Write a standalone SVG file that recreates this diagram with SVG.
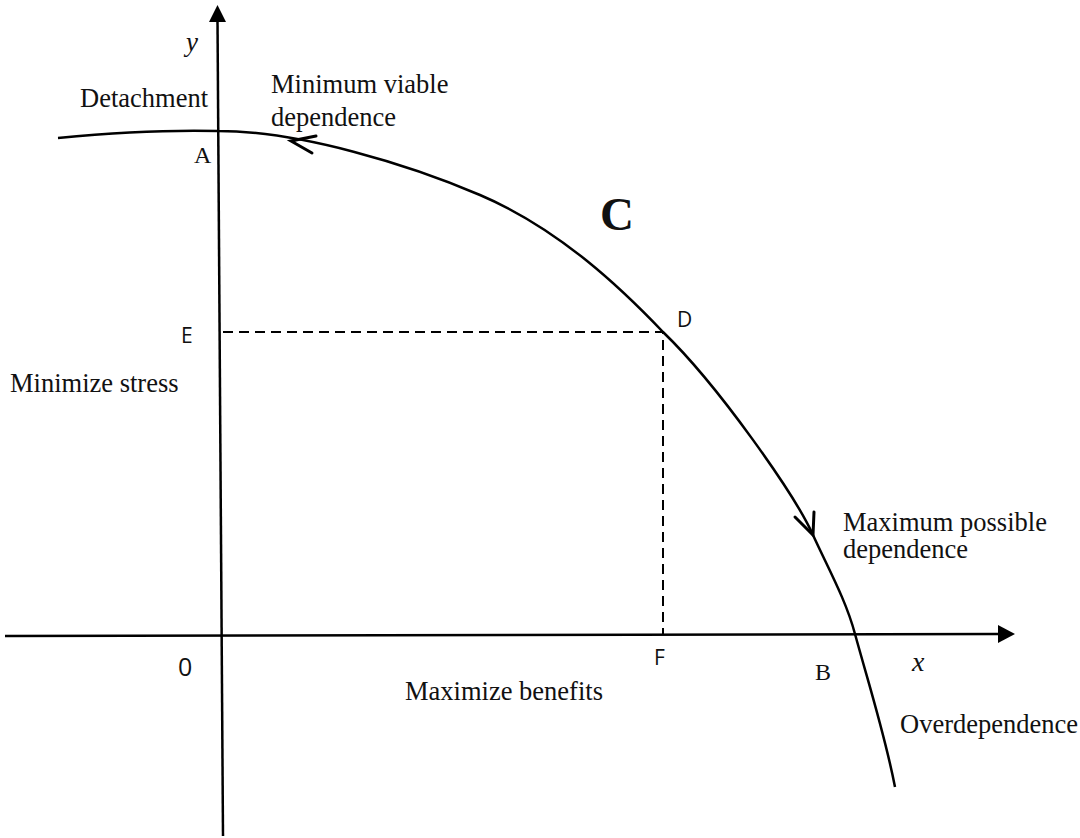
<svg xmlns="http://www.w3.org/2000/svg" width="1080" height="838" viewBox="0 0 1080 838">
<style>
.ser{font-family:"Liberation Serif","Times New Roman",serif;fill:#111;font-size:26.5px}
.san{font-family:"Open Sans","Liberation Sans",sans-serif;fill:#111;font-size:21px}
.ln{stroke:#000;stroke-width:2.5;fill:none}
.dash{stroke:#000;stroke-width:2;fill:none;stroke-dasharray:10 6}
.chev{stroke:#000;stroke-width:3;fill:none;stroke-linecap:round;stroke-linejoin:miter}
</style>
<rect width="1080" height="838" fill="#fff"/>
<g id="connectors">
  <line id="y-axis" class="ln" x1="217.5" y1="20" x2="223" y2="836"/>
  <polygon points="217.5,5 209,22 226,22" fill="#000"/>
  <line id="x-axis" class="ln" x1="5" y1="636" x2="999" y2="634"/>
  <polygon points="1015,634 998,625 998,643" fill="#000"/>
  <path id="curve" class="ln" d="M58,138 C120,132 180,130 218,131 C300,131 410,165 480,195 C560,229 623,290 663,332 C718,385 795,495 813,535 C828,568 846,600 855,634 C869,685 885,735 895,787"/>
  <polyline class="chev" points="316,136 291,141 312,153"/>
  <polyline class="chev" points="795,517 813,535 814,512"/>
  <polyline class="dash" points="223,332 663,332 663,634"/>
</g>
<g id="labels">
  <text class="ser" x="186" y="51" style="font-style:italic;font-size:27px">y</text>
  <text class="ser" x="80" y="107">Detachment</text>
  <text class="ser" x="271" y="93">Minimum viable</text>
  <text class="ser" x="271" y="126">dependence</text>
  <text class="ser" x="194" y="163" style="font-size:24px">A</text>
  <text class="ser" x="600" y="230" style="font-size:47px;font-weight:bold">C</text>
  <text class="san" x="677" y="327">D</text>
  <text class="san" x="181" y="343">E</text>
  <text class="ser" x="10" y="392">Minimize stress</text>
  <text class="ser" x="843" y="531">Maximum possible</text>
  <text class="ser" x="843" y="558">dependence</text>
  <text class="san" x="178" y="676" style="font-size:25px">0</text>
  <text class="san" x="654" y="665">F</text>
  <text class="ser" x="405" y="700">Maximize benefits</text>
  <text class="ser" x="815" y="680" style="font-size:24px">B</text>
  <text class="ser" x="912" y="671" style="font-style:italic;font-size:28px">x</text>
  <text class="ser" x="900" y="733">Overdependence</text>
</g>
</svg>
